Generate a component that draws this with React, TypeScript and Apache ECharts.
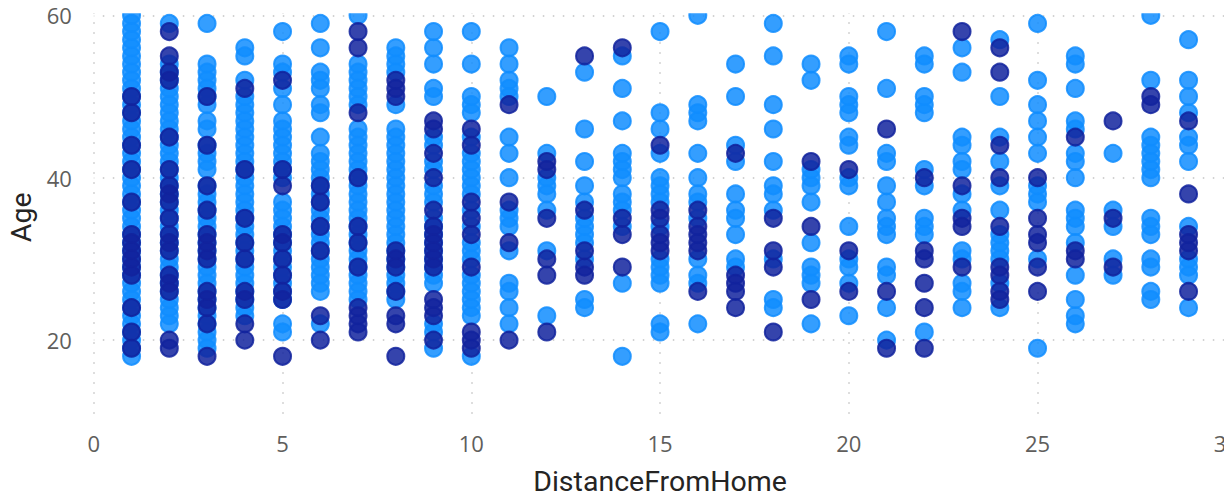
import React, { useEffect, useRef } from "react";
import * as echarts from "echarts";

const distances = [1,2,3,4,5,6,7,8,9,10,11,12,13,14,15,16,17,18,19,20,21,22,23,24,25,26,27,28,29];

const noAttrition: number[][] = [
  [60,59,58,57,56,55,54,53,52,51,50,49,48,47,46,45,44,43,42,41,40,39,38,37,36,35,34,33,32,31,30,29,28,27,26,25,24,23,22,21,20,19,18],
  [59,54,53,52,51,50,49,48,47,46,45,44,43,42,41,40,39,38,37,36,35,34,33,32,31,30,29,28,27,26,25,24,23,22],
  [59,54,53,52,51,50,49,47,46,44,43,42,41,39,38,37,36,35,34,33,32,31,30,29,28,27,26,25,24,23,22,21,20,19],
  [56,55,52,50,49,48,47,46,45,44,43,42,41,40,39,38,37,36,35,34,33,32,31,30,29,28,27,26,25,24,23],
  [58,54,53,51,49,47,46,45,44,43,42,41,40,37,36,35,34,33,32,31,30,29,28,27,26,25,22,21],
  [59,56,53,52,51,49,48,45,43,42,41,40,39,38,37,36,35,34,33,32,31,30,29,28,27,26,22],
  [60,54,53,52,51,50,49,46,45,44,43,42,41,40,39,38,37,36,35,34,33,32,31,30,29,28,27,26,25],
  [56,55,54,53,49,46,45,44,43,42,41,40,39,38,37,36,35,34,33,32,31,30,29,28,27,26,25],
  [58,56,54,51,50,45,44,42,41,39,38,37,35,34,33,32,31,30,29,28,27,22,21,19],
  [58,54,50,49,48,45,43,42,41,40,39,38,36,34,32,31,30,28,27,26,25,24,23,18],
  [56,54,52,51,50,45,43,40,36,35,34,31,27,26,24,22],
  [50,43,40,39,38,36,31,23],
  [53,46,42,39,37,35,34,33,32,30,25,24],
  [55,51,47,43,42,41,40,38,37,36,34,27,18],
  [58,48,46,43,40,39,38,37,34,30,29,28,27,22,21],
  [60,49,48,47,43,40,38,37,35,30,28,27,22],
  [54,50,44,42,38,36,35,33,30,29],
  [59,55,49,46,42,39,38,36,30,25,24],
  [54,52,41,40,39,37,32,29,28,27,22],
  [55,54,50,49,48,45,44,40,39,34,30,29,27,23],
  [58,51,43,42,39,37,35,34,33,29,28,24,20],
  [55,54,50,49,48,41,39,35,34,33,21],
  [56,53,45,44,42,41,38,36,31,30,27,26,24],
  [57,50,45,42,39,36,33,32,31,30,27,24],
  [59,52,49,47,45,43,39,38,37,30,19],
  [55,54,51,47,46,43,42,40,36,35,34,32,28,25,23,22],
  [43,36,34,30,28],
  [60,52,45,44,43,42,41,40,35,34,33,30,29,26,25],
  [57,52,50,48,45,44,42,34,30,29,28,24],
];

const yesAttrition: number[][] = [
  [50,48,44,41,37,33,32,31,30,29,28,24,21,19],
  [58,55,53,52,45,41,39,38,37,35,33,32,31,28,27,26,20,19],
  [50,44,39,36,33,32,31,30,26,25,24,22,18],
  [51,41,35,32,30,26,25,22,20],
  [52,41,39,33,32,30,28,26,25,18],
  [39,37,34,31,23,20],
  [58,56,48,40,34,32,29,24,23,22,21],
  [52,51,50,31,30,29,26,23,22,18],
  [47,46,43,40,36,34,33,32,31,30,29,25,24,23,20],
  [46,44,37,35,33,29,21,20,19],
  [49,37,32,20],
  [42,41,35,30,28,21],
  [55,36,31,29,28],
  [56,35,33,29],
  [44,36,35,33,32,31],
  [36,34,33,32,31,26],
  [43,28,27,26,24],
  [35,31,29,21],
  [42,34,25],
  [41,31,26],
  [46,26,19],
  [40,31,30,27,24,19],
  [58,39,35,34,29],
  [56,53,44,40,34,29,28,26,25],
  [40,35,33,32,29,26],
  [45,31,30],
  [47,35,29],
  [50,49],
  [47,38,33,32,31,26],
];

const xTicks = [0, 5, 10, 15, 20, 25, 30];
const yTicks = [20, 40, 60];
const pairs = (rows: number[][]) => rows.flatMap((ages, i) => ages.map((a) => [distances[i], a]));

export default function App() {
  const ref = useRef<HTMLDivElement>(null);
  useEffect(() => {
    const chart = echarts.init(ref.current!, undefined, { renderer: "svg" });
    const tickFont = { color: "#605E5C", fontSize: 22, fontWeight: 400, fontFamily: "Open Sans" };
    const titleFont = { color: "#252423", fontSize: 28.5, fontWeight: 400, fontFamily: "Roboto", lineHeight: 24 };
    const dot = (color: string) => ({ color, borderColor: color, borderWidth: 2, opacity: 1 });
    chart.setOption({
      animation: false,
      grid: { left: 93.8, top: 13.3, width: 1132.5, height: 408, containLabel: false, outerBoundsMode: "none" },
      xAxis: {
        type: "value", min: 0, max: 30, interval: 5,
        name: "DistanceFromHome", nameLocation: "middle", nameGap: 48.5, nameTextStyle: titleFont,
        axisLine: { show: false }, axisTick: { show: false, customValues: xTicks },
        axisLabel: { ...tickFont, margin: 11, customValues: xTicks, hideOverlap: false, showMaxLabel: true },
        splitLine: { show: true, lineStyle: { color: "#c4c4c4", width: 1.5, type: [1.5, 8.5], dashOffset: 1.3 } },
      },
      yAxis: {
        type: "value", min: 10, max: 60.25,
        name: "Age", nameLocation: "middle", nameGap: 59, nameRotate: 90, nameTextStyle: titleFont,
        axisLine: { show: false }, axisTick: { show: false, customValues: yTicks },
        axisLabel: { ...tickFont, margin: 22, customValues: yTicks },
        splitLine: { show: true, lineStyle: { color: "#c4c4c4", width: 1.5, type: [1.5, 8.5], dashOffset: 1 } },
      },
      graphic: [
        { type: "rect", left: 94, top: 0, z: 100, shape: { width: 1146, height: 13.3 }, style: { fill: "#ffffff" } },
      ],
      series: [
        { type: "scatter", name: "No", symbolSize: 17, data: pairs(noAttrition), itemStyle: dot("rgba(17,141,255,0.85)") },
        { type: "scatter", name: "Yes", symbolSize: 17, data: pairs(yesAttrition), itemStyle: dot("rgba(18,35,158,0.85)") },
      ],
    });
    return () => chart.dispose();
  }, []);
  return (
    <div style={{ position: "fixed", left: 0, top: 0, width: 1224, height: 494, overflow: "hidden", background: "#fff" }}>
      <div ref={ref} style={{ width: 1240, height: 494 }} />
    </div>
  );
}
